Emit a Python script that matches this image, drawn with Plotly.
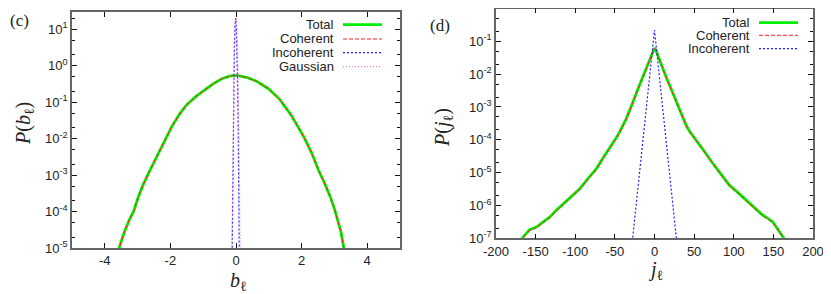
import plotly.graph_objects as go

# ---------------- Panel (c) data ----------------
b_total = [-3.60, -3.55, -3.40, -3.25, -3.12, -3.00, -2.84, -2.65, -2.46, -2.20, -1.95, -1.70,
           -1.50, -1.20, -0.94, -0.70, -0.43, -0.20, -0.05, 0.10, 0.35, 0.63, 1.00, 1.34,
           1.70, 2.06, 2.30, 2.51, 2.70, 2.87, 3.00, 3.12, 3.20, 3.28, 3.31]
p_total_b = [8.0e-6, 1.1e-5, 2.8e-5, 6.0e-5, 1.0e-4, 2.2e-4, 5.2e-4, 1.2e-3, 2.6e-3, 7.9e-3, 2.2e-2, 5.0e-2,
             8.5e-2, 0.148, 0.219, 0.316, 0.437, 0.513, 0.537, 0.525, 0.468, 0.372, 0.229, 0.117,
             0.0417, 0.0115, 4.2e-3, 1.4e-3, 6.0e-4, 2.6e-4, 1.2e-4, 4.9e-5, 2.8e-5, 1.1e-5, 8.0e-6]
p_coherent_b = [8.0e-6, 1.1e-5, 2.8e-5, 6.0e-5, 1.0e-4, 2.2e-4, 5.2e-4, 1.2e-3, 2.6e-3, 7.9e-3, 2.2e-2, 5.0e-2,
                8.5e-2, 0.147, 0.218, 0.314, 0.434, 0.510, 0.533, 0.521, 0.465, 0.370, 0.228, 0.116,
                0.0415, 0.0114, 4.2e-3, 1.4e-3, 6.0e-4, 2.6e-4, 1.2e-4, 4.9e-5, 2.8e-5, 1.1e-5, 8.0e-6]
b_incoh = [-0.13, -0.11, -0.09, -0.07, -0.05, -0.03, -0.01, 0.01, 0.03, 0.05, 0.07, 0.09, 0.11]
p_incoh_b = [6.3e-7, 1.2e-4, 9.3e-3, 0.26, 2.95, 12.3, 20.0, 12.3, 2.95, 0.26, 9.3e-3, 1.2e-4, 6.3e-7]
b_gauss = [-0.14, -0.12, -0.10, -0.08, -0.06, -0.04, -0.02, 0.0, 0.02, 0.04, 0.06, 0.08, 0.10, 0.12, 0.14]
p_gauss_b = [1.0e-6, 8.5e-5, 3.7e-3, 0.081, 0.91, 5.0, 14.1, 20.0, 14.1, 5.0, 0.91, 0.081, 3.7e-3, 8.5e-5, 1.0e-6]

# ---------------- Panel (d) data ----------------
j_total = [-170, -166, -158, -149, -140, -132, -124, -115, -105, -94, -84, -73, -63, -57, -52, -48, -44,
           -40, -36, -31, -26, -20, -14, -9, -5, -2, 0, 2, 5, 9, 14, 20, 26, 31, 36, 40, 44, 48, 52,
           57, 63, 73, 84, 94, 105, 115, 126, 136, 142, 149, 155, 162, 166]
p_total_j = [8.3e-8, 1.1e-7, 1.8e-7, 2.2e-7, 3.3e-7, 4.5e-7, 7.1e-7, 1.15e-6, 1.9e-6, 3.3e-6, 6.6e-6,
             1.35e-5, 3.3e-5, 5.4e-5, 7.9e-5, 1.17e-4, 1.74e-4,
             2.6e-4, 4.2e-4, 8.3e-4, 1.8e-3, 4.0e-3, 9.1e-3, 0.019, 0.035, 0.052,
             0.063, 0.052, 0.035, 0.0186, 9.1e-3, 4.0e-3, 1.8e-3, 8.3e-4, 4.4e-4, 2.75e-4, 1.86e-4,
             1.35e-4, 1.0e-4, 6.9e-5, 4.4e-5, 2.0e-5, 8.9e-6, 4.3e-6, 2.5e-6, 1.48e-6, 8.5e-7, 5.2e-7,
             4.2e-7, 3.2e-7, 2.0e-7, 1.05e-7, 7.9e-8]
p_coherent_j = [8.0e-8, 1.05e-7, 1.7e-7, 2.1e-7, 3.2e-7, 4.3e-7, 6.9e-7, 1.1e-6, 1.8e-6, 3.2e-6, 6.3e-6,
                1.3e-5, 3.2e-5, 5.2e-5, 7.6e-5, 1.12e-4, 1.68e-4,
                2.5e-4, 4.05e-4, 8.0e-4, 1.73e-3, 3.85e-3, 8.8e-3, 0.0183, 0.034, 0.050,
                0.061, 0.050, 0.034, 0.0179, 8.8e-3, 3.85e-3, 1.73e-3, 8.0e-4, 4.25e-4, 2.65e-4, 1.8e-4,
                1.3e-4, 9.6e-5, 6.6e-5, 4.25e-5, 1.92e-5, 8.6e-6, 4.15e-6, 2.4e-6, 1.43e-6, 8.2e-7, 5.0e-7,
                4.0e-7, 3.1e-7, 1.9e-7, 1.0e-7, 7.6e-8]
j_incoh = [-28, -20, -10, 0, 10, 20, 28]
p_incoh_j = [8.0e-8, 5.5e-6, 1.1e-3, 0.22, 1.1e-3, 5.5e-6, 8.0e-8]

# ---------------- tick labels ----------------
b_ticks = [-4, -2, 0, 2, 4]
b_ticktext = ["-4", "-2", "0", "2", "4"]
j_ticks = [-200, -150, -100, -50, 0, 50, 100, 150, 200]
j_ticktext = ["-200", "-150", "-100", "-50", "0", "50", "100", "150", "200"]
yc_exps = [-5, -4, -3, -2, -1, 0, 1]
yd_exps = [-7, -6, -5, -4, -3, -2, -1, 0]

# page body has an 8px default margin, so the figure is made 8px smaller and
# all pixel positions below are given in window pixels, shifted by that offset.
OFF = 8
W, H = 831 - OFF, 294 - OFF


def px(x):
    return (x - OFF) / W


def py(y):
    return 1 - (y - OFF) / H


GREEN = "#00ee00"
RED = "#ff2020"
BLUE = "#2020ff"
MAGENTA = "#f07ef0"
TXT = "#222222"
SANS = "Liberation Sans, Arial, sans-serif"
SERIF = "Liberation Serif, Times New Roman, serif"

fig = go.Figure()

# panel c
fig.add_trace(go.Scatter(x=b_total, y=p_total_b, mode="lines", line=dict(color=GREEN, width=2.8),
                         xaxis="x", yaxis="y", name="Total"))
fig.add_trace(go.Scatter(x=b_total, y=p_coherent_b, mode="lines", line=dict(color=RED, width=1, dash="4px,2px"),
                         xaxis="x", yaxis="y", name="Coherent"))
fig.add_trace(go.Scatter(x=b_incoh, y=p_incoh_b, mode="lines", line=dict(color=BLUE, width=1.2, dash="2px,2px"),
                         xaxis="x", yaxis="y", name="Incoherent"))
fig.add_trace(go.Scatter(x=b_gauss, y=p_gauss_b, mode="lines", line=dict(color=MAGENTA, width=1.2, dash="1px,2px"),
                         xaxis="x", yaxis="y", name="Gaussian"))

# panel d
fig.add_trace(go.Scatter(x=j_total, y=p_total_j, mode="lines", line=dict(color=GREEN, width=2.8),
                         xaxis="x2", yaxis="y2", name="Total"))
fig.add_trace(go.Scatter(x=j_total, y=p_coherent_j, mode="lines", line=dict(color=RED, width=1, dash="4px,2px"),
                         xaxis="x2", yaxis="y2", name="Coherent"))
fig.add_trace(go.Scatter(x=j_incoh, y=p_incoh_j, mode="lines", line=dict(color=BLUE, width=1.2, dash="2px,2px"),
                         xaxis="x2", yaxis="y2", name="Incoherent"))

axis_common = dict(showline=True, mirror="allticks", linecolor="#666666", linewidth=1.5,
                   ticks="inside", ticklen=5, tickcolor="#111111", tickwidth=1, automargin=False,
                   showgrid=False, zeroline=False, tickfont=dict(family=SANS, size=13, color=TXT))

fig.update_layout(
    width=W, height=H, margin=dict(l=0, r=0, t=0, b=0, pad=0, autoexpand=False),
    paper_bgcolor="white", plot_bgcolor="white", showlegend=False,
    xaxis=dict(domain=[px(72), px(400)], range=[-5, 5], tickvals=b_ticks, ticktext=b_ticktext,
               anchor="y", **axis_common),
    yaxis=dict(domain=[py(248), py(12)], type="log", range=[-5, 1.47],
               tickvals=[10.0 ** e for e in yc_exps],
               ticktext=["10<sup>%d</sup>" % e for e in yc_exps], anchor="x",
               minor=dict(ticks="inside", ticklen=3, dtick="D2", tickcolor="#111111", showgrid=False),
               **axis_common),
    xaxis2=dict(domain=[px(496), px(813)], range=[-200, 200], tickvals=j_ticks, ticktext=j_ticktext,
                anchor="y2", **axis_common),
    yaxis2=dict(domain=[py(238.3), py(8.5)], type="log", range=[-7, 0],
                tickvals=[10.0 ** e for e in yd_exps],
                ticktext=["10<sup>%d</sup>" % e for e in yd_exps], anchor="x2",
                minor=dict(ticks="inside", ticklen=3, dtick="D2", tickcolor="#111111", showgrid=False),
                **axis_common),
)

CM = dict(xref="paper", yref="paper", showarrow=False, xanchor="center", yanchor="middle")
ann = []
# panel labels
ann.append(dict(text="(c)", x=px(19), y=py(21), font=dict(family=SERIF, size=17, color=TXT), **CM))
ann.append(dict(text="(d)", x=px(440), y=py(25), font=dict(family=SERIF, size=17, color=TXT), **CM))
# axis titles
ann.append(dict(text="<i>P</i>(<i>b</i><sub>ℓ</sub>)", x=px(24), y=py(123), textangle=-90,
                font=dict(family=SERIF, size=20, color=TXT), **CM))
ann.append(dict(text="<i>P</i>(<i>j</i><sub>ℓ</sub>)", x=px(444), y=py(127), textangle=-90,
                font=dict(family=SERIF, size=20, color=TXT), **CM))
ann.append(dict(text="<i>b</i><sub>ℓ</sub>", x=px(238), y=py(281), font=dict(family=SERIF, size=20, color=TXT), **CM))
ann.append(dict(text="<i>j</i><sub>ℓ</sub>", x=px(656), y=py(270), font=dict(family=SERIF, size=20, color=TXT), **CM))

shapes = []
legend_c = [("Total", GREEN, 2.8, "solid", 24.7), ("Coherent", RED, 1, "4px,2px", 39.0),
            ("Incoherent", BLUE, 1.2, "2px,2px", 52.7), ("Gaussian", MAGENTA, 1.2, "1px,2px", 66.7)]
for name, col, w, dash, yy in legend_c:
    ann.append(dict(text=name, x=px(336), y=py(yy), xref="paper", yref="paper", xanchor="right",
                    yanchor="middle", showarrow=False, font=dict(family=SANS, size=13, color=TXT)))
    shapes.append(dict(type="line", xref="paper", yref="paper", x0=px(343), x1=px(382), y0=py(yy), y1=py(yy),
                       line=dict(color=col, width=w, dash=dash)))
legend_d = [("Total", GREEN, 2.8, "solid", 22.7), ("Coherent", RED, 1, "4px,2px", 35.3),
            ("Incoherent", BLUE, 1.2, "2px,2px", 48.7)]
for name, col, w, dash, yy in legend_d:
    ann.append(dict(text=name, x=px(752), y=py(yy), xref="paper", yref="paper", xanchor="right",
                    yanchor="middle", showarrow=False, font=dict(family=SANS, size=13, color=TXT)))
    shapes.append(dict(type="line", xref="paper", yref="paper", x0=px(759), x1=px(798), y0=py(yy), y1=py(yy),
                       line=dict(color=col, width=w, dash=dash)))

fig.update_layout(annotations=ann, shapes=shapes)
fig.write_html("out.html")
